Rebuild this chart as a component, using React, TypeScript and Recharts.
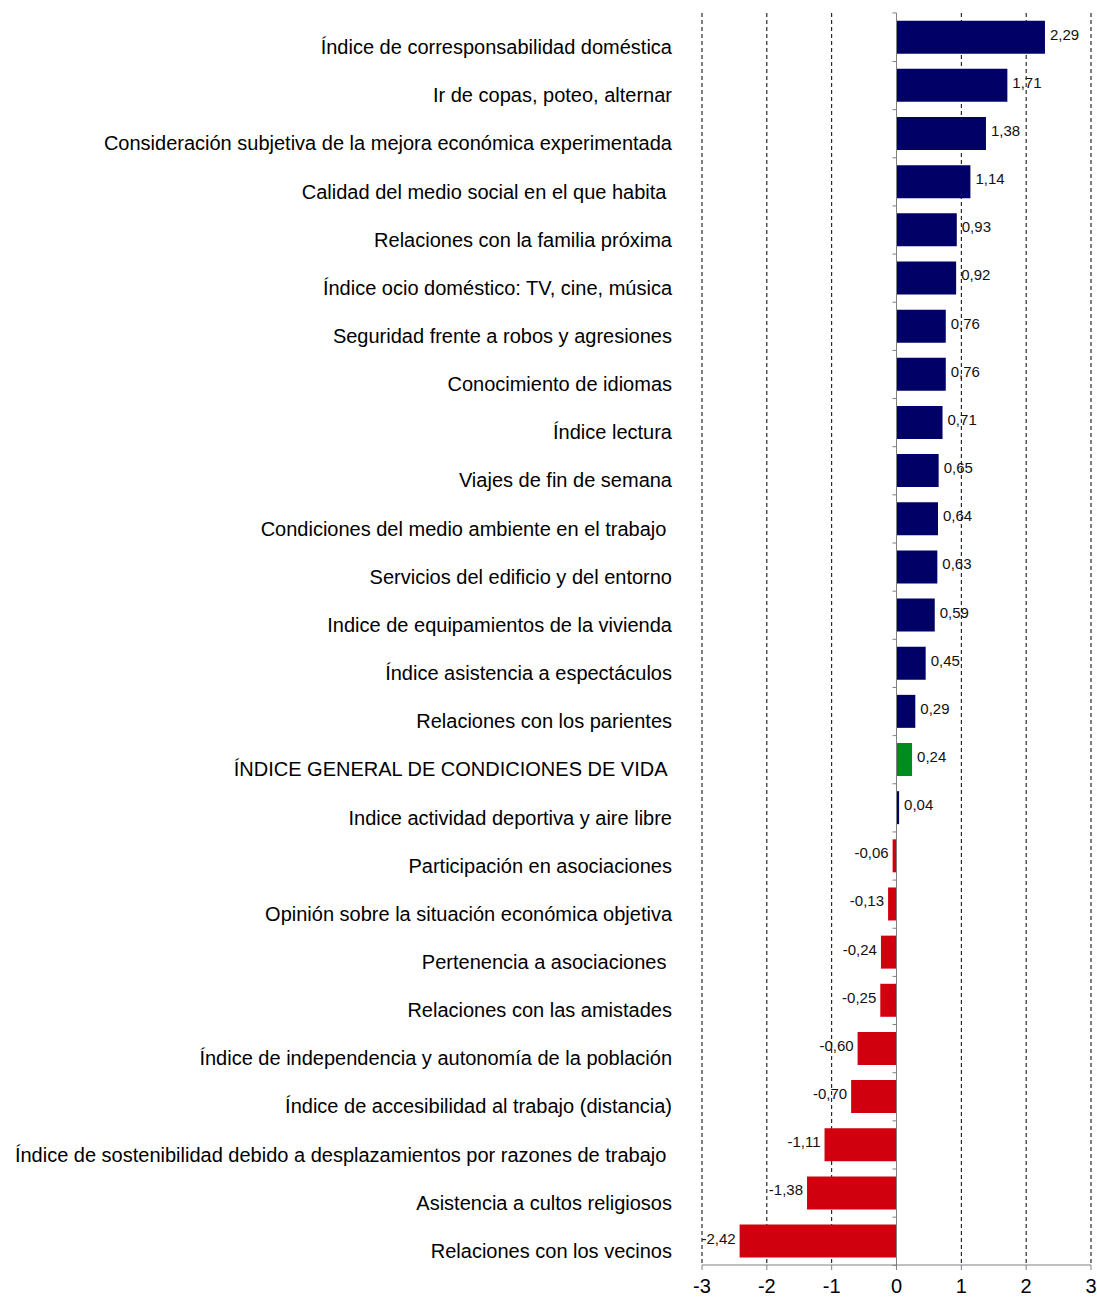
import React from 'react';
import { BarChart, Bar, XAxis, YAxis, CartesianGrid, ReferenceLine, Cell, LabelList } from 'recharts';

const categories = [
  'Índice de corresponsabilidad doméstica',
  'Ir de copas, poteo, alternar',
  'Consideración subjetiva de la mejora económica experimentada',
  'Calidad del medio social en el que habita ',
  'Relaciones con la familia próxima',
  'Índice ocio doméstico: TV, cine, música',
  'Seguridad frente a robos y agresiones',
  'Conocimiento de idiomas',
  'Índice lectura',
  'Viajes de fin de semana',
  'Condiciones del medio ambiente en el trabajo ',
  'Servicios del edificio y del entorno',
  'Indice de equipamientos de la vivienda',
  'Índice asistencia a espectáculos',
  'Relaciones con los parientes',
  'ÍNDICE GENERAL DE CONDICIONES DE VIDA ',
  'Indice actividad deportiva y aire libre',
  'Participación en asociaciones',
  'Opinión sobre la situación económica objetiva',
  'Pertenencia a asociaciones ',
  'Relaciones con las amistades',
  'Índice de independencia y autonomía de la población',
  'Índice de accesibilidad al trabajo (distancia)',
  'Índice de sostenibilidad debido a desplazamientos por razones de trabajo ',
  'Asistencia a cultos religiosos',
  'Relaciones con los vecinos',
];

const values = [
  2.29, 1.71, 1.38, 1.14, 0.93, 0.92, 0.76, 0.76, 0.71, 0.65, 0.64, 0.63, 0.59,
  0.45, 0.29, 0.24, 0.04, -0.06, -0.13, -0.24, -0.25, -0.6, -0.7, -1.11, -1.38, -2.42,
];

const highlightCategory = 'ÍNDICE GENERAL DE CONDICIONES DE VIDA ';
const xTicks = [-3, -2, -1, 0, 1, 2, 3];

const NAVY = '#000066';
const RED = '#D0000F';
const GREEN = '#008C1E';
const AXIS = '#808080';
const GAP = 0.16;

const data = categories.map((name, i) => ({ name, value: values[i] }));

const fmt = (v: number) => v.toFixed(2).replace('.', ',');

const CategoryTick = (props: any) => {
  const { x, y, payload } = props;
  return (
    <text
      x={x}
      y={y + 10}
      textAnchor="end"
      dominantBaseline="central"
      fontFamily="'Liberation Sans', Arial, sans-serif"
      fontSize={20}
      fill="#000"
      style={{ whiteSpace: 'pre' }}
    >
      {payload.value}
    </text>
  );
};

const ValueLabel = (props: any) => {
  const { x, y, width, height, value, index } = props;
  const left = Math.min(x, x + width);
  const right = Math.max(x, x + width);
  const neg = value < 0;
  const zeroX = neg ? right : left;
  const cy = y + height / 2;
  const bandHalf = height / (1 - 2 * GAP) / 2;
  return (
    <g>
      {index === 0 && (
        <line x1={zeroX - 4} x2={zeroX} y1={cy - bandHalf} y2={cy - bandHalf} stroke={AXIS} />
      )}
      <line x1={zeroX - 4} x2={zeroX} y1={cy + bandHalf} y2={cy + bandHalf} stroke={AXIS} />
      <text
        x={neg ? left - 4 : right + 5}
        y={cy - 3}
        textAnchor={neg ? 'end' : 'start'}
        dominantBaseline="central"
        fontFamily="'Liberation Sans', Arial, sans-serif"
        fontSize={15}
        fill="#111"
      >
        {fmt(value)}
      </text>
    </g>
  );
};

export default function App() {
  return (
    <div style={{ position: 'absolute', left: 0, top: 0, background: '#fff' }}>
      <BarChart
        width={1097}
        height={1298}
        data={data}
        layout="vertical"
        margin={{ top: 13, right: 6, bottom: 0, left: 0 }}
        barCategoryGap={`${GAP * 100}%`}
      >
        <CartesianGrid horizontal={false} vertical={true} stroke="#000" strokeDasharray="4 3" />
        <XAxis
          type="number"
          domain={[-3, 3]}
          ticks={xTicks}
          height={33}
          axisLine={{ stroke: AXIS }}
          tickLine={{ stroke: AXIS }}
          tickSize={5}
          tickMargin={9}
          tick={{ fill: '#000', fontSize: 20, fontFamily: "'Liberation Sans', Arial, sans-serif" }}
          tickFormatter={(v: number) => String(v)}
        />
        <YAxis
          type="category"
          dataKey="name"
          width={702}
          axisLine={false}
          tickLine={false}
          tickSize={0}
          tickMargin={30}
          interval={0}
          tick={<CategoryTick />}
        />
        <ReferenceLine x={0} stroke={AXIS} strokeWidth={1} />
        <Bar dataKey="value" isAnimationActive={false}>
          {data.map((d) => (
            <Cell
              key={d.name}
              fill={d.name === highlightCategory ? GREEN : d.value < 0 ? RED : NAVY}
            />
          ))}
          <LabelList dataKey="value" content={<ValueLabel />} />
        </Bar>
      </BarChart>
    </div>
  );
}
